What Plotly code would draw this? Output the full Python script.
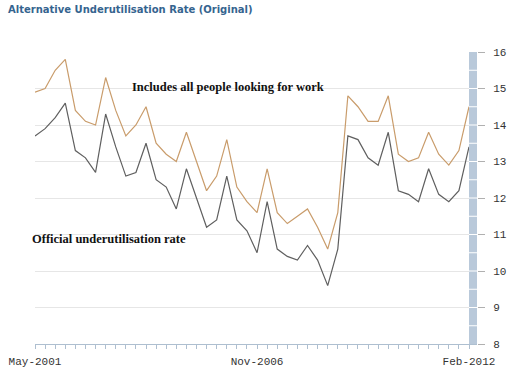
import plotly.graph_objects as go
import pandas as pd

# Quarterly periods May-2001 .. Feb-2012
periods = pd.date_range("2001-05-01", periods=44, freq="3MS")
labels = [d.strftime("%b-%Y") for d in periods]
shown_labels = ["May-2001", "Nov-2006", "Feb-2012"]

includes_all = [14.9, 15.0, 15.5, 15.8, 14.4, 14.1, 14.0, 15.3, 14.4, 13.7, 14.0, 14.5,
                13.5, 13.2, 13.0, 13.8, 13.0, 12.2, 12.6, 13.6, 12.3, 11.9, 11.6, 12.8,
                11.6, 11.3, 11.5, 11.7, 11.2, 10.6, 11.6, 14.8, 14.5, 14.1, 14.1, 14.8,
                13.2, 13.0, 13.1, 13.8, 13.2, 12.9, 13.3, 14.5]
official = [13.7, 13.9, 14.2, 14.6, 13.3, 13.1, 12.7, 14.3, 13.4, 12.6, 12.7, 13.5,
            12.5, 12.3, 11.7, 12.8, 12.0, 11.2, 11.4, 12.6, 11.4, 11.1, 10.5, 11.9,
            10.6, 10.4, 10.3, 10.7, 10.3, 9.6, 10.6, 13.7, 13.6, 13.1, 12.9, 13.8,
            12.2, 12.1, 11.9, 12.8, 12.1, 11.9, 12.2, 13.4]
y_ticks = [8, 9, 10, 11, 12, 13, 14, 15, 16]

W, H = 508, 372
ml, mr, mt, mb = 35, 31, 52, 28
plot_w = W - ml - mr
bar_px = 8
bar_frac = bar_px / plot_w
idx = list(range(len(labels)))
xmax = (len(idx) - 1) / (1 - bar_frac)

fig = go.Figure()
fig.add_trace(go.Scatter(x=idx, y=includes_all, mode="lines",
                         line=dict(color="#c99c6b", width=1.2), hoverinfo="skip"))
fig.add_trace(go.Scatter(x=idx, y=official, mode="lines",
                         line=dict(color="#5f5f5f", width=1.2), hoverinfo="skip"))

shapes = [dict(type="rect", xref="paper", yref="y", x0=1 - bar_frac, x1=1,
               y0=y_ticks[0], y1=y_ticks[-1], fillcolor="#b9c9da", line_width=0,
               layer="above")]
halves = [y_ticks[0] + 0.5 * k for k in range(1, 2 * (y_ticks[-1] - y_ticks[0]))]
for h in halves:
    shapes.append(dict(type="line", xref="paper", yref="y", x0=1 - bar_frac, x1=1,
                       y0=h, y1=h, line=dict(color="white", width=1), layer="above"))

tick_text = [l if l in shown_labels else "" for l in labels]

fig.update_layout(
    width=W, height=H,
    margin=dict(l=ml, r=mr, t=mt, b=mb),
    paper_bgcolor="white", plot_bgcolor="white",
    showlegend=False,
    title=dict(text="<b>Alternative Underutilisation Rate (Original)</b>",
               x=8 / W, xanchor="left", y=1 - 9 / H, yanchor="middle",
               font=dict(family="DejaVu Sans", size=10, color="#35648f")),
    xaxis=dict(range=[0, xmax], tickvals=idx, ticktext=tick_text, automargin=False,
               showgrid=False, zeroline=False, showline=True,
               linecolor="#aebfd0", linewidth=1, ticks="outside", ticklen=4,
               tickcolor="#aebfd0", tickangle=0, ticklabelstandoff=3,
               tickfont=dict(family="Liberation Mono", size=11, color="#333333")),
    yaxis=dict(range=[y_ticks[0], y_ticks[-1]], tickvals=y_ticks, side="right",
               automargin=False,
               showgrid=True, gridcolor="#e6e6e6", zeroline=False, showline=False,
               ticks="outside", ticklen=7, tickcolor="#b0b0b0", ticklabelstandoff=6,
               tickfont=dict(family="Liberation Mono", size=11, color="#333333")),
    shapes=shapes,
    annotations=[
        dict(text="<b>Includes all people looking for work</b>", x=9.4, y=15.04,
             xref="x", yref="y", xanchor="left", yanchor="middle", showarrow=False,
             font=dict(family="Liberation Serif", size=12.5, color="#111111")),
        dict(text="<b>Official underutilisation rate</b>", x=-5 / plot_w, y=10.88,
             xref="paper", yref="y", xanchor="left", yanchor="middle", showarrow=False,
             font=dict(family="Liberation Serif", size=12.5, color="#111111")),
    ],
)

fig.write_html("out.html", config={"displayModeBar": False},
               post_script="document.body.style.margin='0';document.body.style.padding='0';")
